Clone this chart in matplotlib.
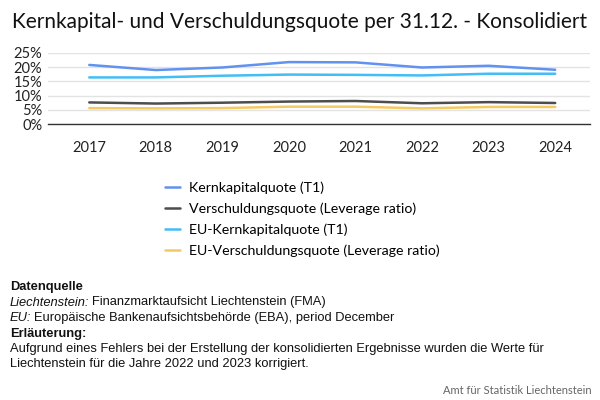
import matplotlib.pyplot as plt
from matplotlib.ticker import FuncFormatter

# data (percent)
years = ["2017", "2018", "2019", "2020", "2021", "2022", "2023", "2024"]
kernkapital = [20.8, 19.0, 19.9, 21.8, 21.7, 19.9, 20.5, 19.1]
verschuldung = [7.6, 7.2, 7.5, 7.9, 8.1, 7.3, 7.7, 7.4]
eu_kernkapital = [16.4, 16.4, 17.0, 17.4, 17.3, 17.1, 17.7, 17.7]
eu_verschuldung = [5.6, 5.5, 5.6, 6.1, 6.1, 5.5, 6.0, 6.0]

series_labels = [
    "Kernkapitalquote (T1)",
    "Verschuldungsquote (Leverage ratio)",
    "EU-Kernkapitalquote (T1)",
    "EU-Verschuldungsquote (Leverage ratio)",
]
series_colors = ["#6192F0", "#4D4D4D", "#42BDF5", "#F5C961"]
y_ticks = [0, 5, 10, 15, 20, 25]

ui_font = ["Lato", "DejaVu Sans"]
note_font = ["Liberation Sans", "DejaVu Sans"]

fig = plt.figure(figsize=(6, 4), dpi=100)
ax = fig.add_axes([0.08, 0.69, 0.903, 0.1775])

x = range(len(years))
for vals, lab, col in zip([kernkapital, verschuldung, eu_kernkapital, eu_verschuldung],
                          series_labels, series_colors):
    ax.plot(x, vals, color=col, linewidth=1.8, label=lab, solid_capstyle="round")

ax.set_xlim(-0.62, len(years) - 1 + 0.52)
ax.set_ylim(0, 25)
ax.set_yticks(y_ticks)
ax.yaxis.set_major_formatter(FuncFormatter(lambda v, p: f"{v:.0f}%"))
ax.set_xticks(list(x))
ax.set_xticklabels(years)
ax.grid(axis="y", color="#E3E3E3", linewidth=1)
ax.set_axisbelow(True)
for s in ["top", "right", "left"]:
    ax.spines[s].set_visible(False)
ax.spines["bottom"].set_color("#333333")
ax.spines["bottom"].set_linewidth(1)
ax.tick_params(axis="both", length=0, labelsize=10.5, labelcolor="#222222")
ax.tick_params(axis="x", pad=12)
ax.tick_params(axis="y", pad=4)
for t in ax.get_xticklabels() + ax.get_yticklabels():
    t.set_family(ui_font)

fig.text(0.5, 0.945, "Kernkapital- und Verschuldungsquote per 31.12. - Konsolidiert",
         ha="center", va="center", fontsize=15, family=ui_font, color="#111111")

fig.legend(loc="upper left", bbox_to_anchor=(0.265, 0.56), frameon=False,
           prop={"family": ui_font, "size": 10.2}, handlelength=1.1,
           handletextpad=0.6, labelspacing=0.6, borderaxespad=0)

note_x = 10 / 600
lines = [
    ("Datenquelle", "bold", "normal", None),
    ("Liechtenstein:", "normal", "italic", "Finanzmarktaufsicht Liechtenstein (FMA)"),
    ("EU:", "normal", "italic", "Europäische Bankenaufsichtsbehörde (EBA), period December"),
    ("Erläuterung:", "bold", "normal", None),
    ("Aufgrund eines Fehlers bei der Erstellung der konsolidierten Ergebnisse wurden die Werte für",
     "normal", "normal", None),
    ("Liechtenstein für die Jahre 2022 und 2023 korrigiert.", "normal", "normal", None),
]
y0 = 1 - 287 / 400
step = 15.5 / 400
fig.canvas.draw()
renderer = fig.canvas.get_renderer()
for i, (txt, weight, style, rest) in enumerate(lines):
    y = y0 - i * step
    t = fig.text(note_x, y, txt, ha="left", va="center", fontsize=9.3,
                 family=note_font, weight=weight, style=style, color="#111111")
    if rest:
        bb = t.get_window_extent(renderer=renderer)
        fig.text((bb.x1 + 3) / fig.bbox.width, y, rest, ha="left", va="center",
                 fontsize=9.3, family=note_font, color="#111111")

fig.text(592 / 600, 1 - 390 / 400, "Amt für Statistik Liechtenstein", ha="right",
         va="center", fontsize=8, family=ui_font, color="#666666")

fig.savefig("out.png", dpi=100)
